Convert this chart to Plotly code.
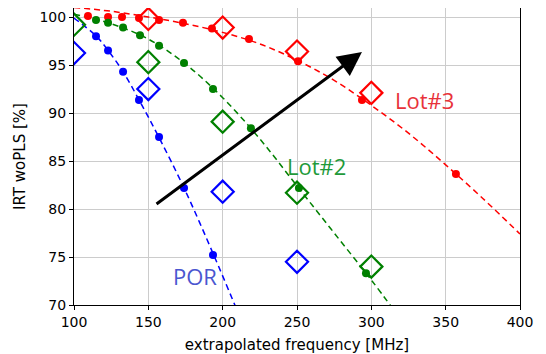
import plotly.graph_objects as go

# Lot#3 (red)
lot3_dot_x = [109.4, 122.9, 132.3, 143.7, 157.2, 173.3, 192.8, 217.7, 250.7, 293.7, 356.9]
lot3_dot_y = [100.1, 100.0, 100.0, 99.9, 99.7, 99.4, 98.8, 97.7, 95.4, 91.35, 83.65]
lot3_fit_x = [100, 125, 150, 175, 200, 225, 250, 275, 300, 325, 350, 375, 400]
lot3_fit_y = [101.0, 100.6, 100.0, 99.3, 98.4, 97.2, 95.5, 93.4, 90.8, 87.9, 84.6, 81.1, 77.4]
lot3_dia_x = [150, 200, 250, 300]
lot3_dia_y = [99.8, 98.9, 96.4, 92.1]

# Lot#2 (green)
lot2_dot_x = [114.8, 122.9, 133.0, 144.4, 157.2, 174.0, 193.5, 219.0, 251.3, 296.4]
lot2_dot_y = [99.7, 99.4, 98.9, 98.1, 97.0, 95.2, 92.5, 88.4, 82.2, 73.3]
lot2_fit_x = [100, 125, 150, 175, 200, 225, 250, 275, 300, 315]
lot2_fit_y = [100.3, 99.3, 97.7, 95.1, 91.6, 87.3, 82.4, 77.5, 72.6, 69.5]
lot2_dia_x = [100, 150, 200, 250, 300]
lot2_dia_y = [99.2, 95.3, 89.1, 81.7, 74.0]

# POR (blue)
por_dot_x = [114.8, 122.9, 133.0, 143.7, 157.2, 174.0, 193.5]
por_dot_y = [98.0, 96.5, 94.3, 91.35, 87.5, 82.2, 75.2]
por_fit_x = [100, 115, 123, 133, 144, 157, 174, 194, 209]
por_fit_y = [99.9, 98.0, 96.5, 94.3, 91.3, 87.5, 82.2, 75.2, 69.7]
por_dia_x = [100, 150, 200, 250]
por_dia_y = [96.25, 92.5, 81.8, 74.5]

arrow_tail = (154.5, 80.4)
arrow_head = (293.7, 96.35)

x_ticks = [100, 150, 200, 250, 300, 350, 400]
y_ticks = [70, 75, 80, 85, 90, 95, 100]

series = [
    ("Lot#3", "#ff0000", lot3_fit_x, lot3_fit_y, lot3_dot_x, lot3_dot_y, lot3_dia_x, lot3_dia_y),
    ("Lot#2", "#008000", lot2_fit_x, lot2_fit_y, lot2_dot_x, lot2_dot_y, lot2_dia_x, lot2_dia_y),
    ("POR", "#0000ff", por_fit_x, por_fit_y, por_dot_x, por_dot_y, por_dia_x, por_dia_y),
]

fig = go.Figure()
for name, col, fx, fy, dx, dy, mx, my in series:
    fig.add_trace(go.Scatter(x=fx, y=fy, mode="lines", line=dict(color=col, width=1.5, dash="6px,4px", shape="spline"),
                             showlegend=False, hoverinfo="skip"))
for name, col, fx, fy, dx, dy, mx, my in series:
    fig.add_trace(go.Scatter(x=dx, y=dy, mode="markers", marker=dict(color=col, size=8, line=dict(width=0)),
                             showlegend=False, name=name))
for name, col, fx, fy, dx, dy, mx, my in series:
    fig.add_trace(go.Scatter(x=mx, y=my, mode="markers",
                             marker=dict(symbol="diamond-open", color=col, size=17, line=dict(color=col, width=2.2)),
                             showlegend=False, name=name))

fig.add_annotation(x=arrow_head[0], y=arrow_head[1], ax=arrow_tail[0], ay=arrow_tail[1],
                   xref="x", yref="y", axref="x", ayref="y", text="", showarrow=True,
                   arrowhead=2, arrowsize=1.6, arrowwidth=3, arrowcolor="black")

label_font = "Open Sans, Noto Sans, sans-serif"
fig.add_annotation(x=336, y=91.35, text="Lot#3", showarrow=False, font=dict(family=label_font, size=22, color="#e8323a"))
fig.add_annotation(x=263.4, y=84.5, text="Lot#2", showarrow=False, font=dict(family=label_font, size=22, color="#1f9a3a"))
fig.add_annotation(x=181.4, y=73.0, text="POR", showarrow=False, font=dict(family=label_font, size=22, color="#4a56d0"))

axis_common = dict(showline=True, linecolor="black", linewidth=1, mirror=True, ticks="outside", ticklen=4,
                   tickcolor="black", showgrid=True, gridcolor="#cccccc", gridwidth=1, zeroline=False,
                   tickfont=dict(family="DejaVu Sans", size=14, color="black"))
fig.update_xaxes(range=[100, 400], tickvals=x_ticks, ticktext=[str(v) for v in x_ticks],
                 title=dict(text="extrapolated frequency [MHz]", font=dict(family="DejaVu Sans", size=15, color="black"), standoff=12),
                 automargin=False, **axis_common)
fig.update_yaxes(range=[70, 100.94], tickvals=y_ticks, ticktext=[str(v) for v in y_ticks],
                 title=dict(text="IRT woPLS [%]", font=dict(family="DejaVu Sans", size=15, color="black"), standoff=10),
                 **axis_common)
# page body has an 8px margin, so the figure is sized/offset to place the plot area at the reference pixels
fig.update_layout(width=538, height=346, margin=dict(l=66, r=26, t=0, b=49),
                  plot_bgcolor="white", paper_bgcolor="white")
fig.write_html("out.html")
